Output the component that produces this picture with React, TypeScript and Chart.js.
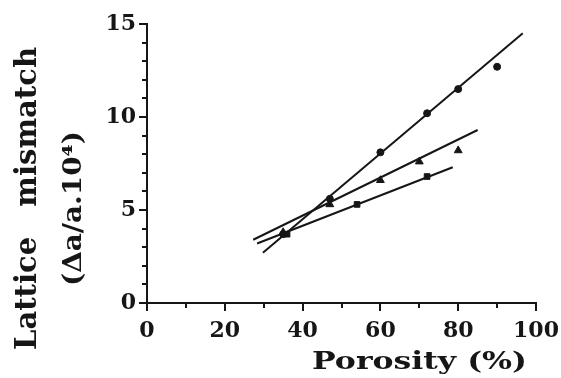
import React, { useEffect, useRef } from "react";
import { Chart, registerables } from "chart.js";

Chart.register(...registerables);

// ---- data ----
const circleX = [35, 47, 60, 72, 80, 90];
const circleY = [3.7, 5.6, 8.1, 10.2, 11.5, 12.7];
const triangleX = [35, 47, 60, 70, 80];
const triangleY = [3.8, 5.3, 6.6, 7.6, 8.2];
const squareX = [36, 54, 72];
const squareY = [3.7, 5.3, 6.8];

const fitAX = [29.8, 96.6];
const fitAY = [2.7, 14.5];
const fitBX = [27.3, 85];
const fitBY = [3.4, 9.3];
const fitCX = [28.3, 78.6];
const fitCY = [3.2, 7.3];

const xTickLabels = [0, 20, 40, 60, 80, 100];
const yTickLabels = [0, 5, 10, 15];
const xMinorStep = 10;
const yMinorStep = 1;

const xTitle = "Porosity (%)";
const yTitleLines = ["Lattice mismatch", "(Δa/a.10⁴)"];

const FONT = '"DejaVu Serif", "Liberation Serif", serif';
const INK = "#161616";

const pts = (xs: number[], ys: number[]) => xs.map((x, i) => ({ x, y: ys[i] }));

const decorPlugin = {
  id: "decor",
  afterDraw(chart: any) {
    const ctx: CanvasRenderingContext2D = chart.ctx;
    const xs = chart.scales.x;
    const ys = chart.scales.y;
    const { left, bottom } = chart.chartArea;
    ctx.save();
    ctx.strokeStyle = INK;
    ctx.lineWidth = 2;
    // y tick marks
    for (let v = 0; v <= 15; v += yMinorStep) {
      const py = Math.round(ys.getPixelForValue(v));
      const len = v % 5 === 0 ? 8 : 5;
      ctx.beginPath();
      ctx.moveTo(left - len, py);
      ctx.lineTo(left, py);
      ctx.stroke();
    }
    // x tick marks
    for (let v = 0; v <= 100; v += xMinorStep) {
      const px = Math.round(xs.getPixelForValue(v));
      const len = v % 20 === 0 ? 8 : 5;
      ctx.beginPath();
      ctx.moveTo(px, bottom);
      ctx.lineTo(px, bottom + len);
      ctx.stroke();
    }

    ctx.fillStyle = INK;
    (ctx as any).letterSpacing = "0px";
    (ctx as any).wordSpacing = "0px";
    ctx.textAlign = "left";
    ctx.textBaseline = "alphabetic";

    // x title (horizontally widened)
    ctx.save();
    ctx.font = `bold 24px ${FONT}`;
    const wx = ctx.measureText(xTitle).width;
    ctx.translate(312, 369);
    ctx.scale(215 / wx, 1);
    ctx.fillText(xTitle, 0, 0);
    ctx.restore();

    // y title line 1
    ctx.save();
    ctx.font = `bold 29px ${FONT}`;
    const w1 = ctx.measureText(yTitleLines[0]).width;
    (ctx as any).wordSpacing = `${Math.max(0, 303 - w1)}px`;
    ctx.translate(36, 350);
    ctx.rotate(-Math.PI / 2);
    ctx.fillText(yTitleLines[0], 0, 0);
    ctx.restore();
    (ctx as any).wordSpacing = "0px";

    // y title line 2
    ctx.save();
    ctx.font = `bold 26px ${FONT}`;
    const w2 = ctx.measureText(yTitleLines[1]).width;
    ctx.translate(81, 286);
    ctx.rotate(-Math.PI / 2);
    ctx.scale(155 / w2, 1);
    ctx.fillText(yTitleLines[1], 0, 0);
    ctx.restore();

    ctx.restore();
  },
};

export default function App() {
  const ref = useRef<HTMLCanvasElement | null>(null);

  useEffect(() => {
    if (!ref.current) return;
    const tickFont = { family: FONT, size: 22, weight: "bold" as const };
    const lineDs = (xs: number[], ys: number[]) => ({
      type: "scatter" as const,
      data: pts(xs, ys),
      showLine: true,
      borderColor: INK,
      borderWidth: 2,
      pointRadius: 0,
      fill: false,
    });
    const chart = new Chart(ref.current, {
      type: "scatter",
      data: {
        datasets: [
          lineDs(fitAX, fitAY),
          lineDs(fitBX, fitBY),
          lineDs(fitCX, fitCY),
          {
            data: pts(circleX, circleY),
            pointStyle: "circle",
            pointRadius: 3.5,
            backgroundColor: INK,
            borderColor: INK,
            borderWidth: 1,
          },
          {
            data: pts(triangleX, triangleY),
            pointStyle: "triangle",
            pointRadius: 4.5,
            backgroundColor: INK,
            borderColor: INK,
            borderWidth: 1,
          },
          {
            data: pts(squareX, squareY),
            pointStyle: "rect",
            pointRadius: 4,
            backgroundColor: INK,
            borderColor: INK,
            borderWidth: 1,
          },
        ],
      },
      options: {
        animation: false,
        responsive: true,
        maintainAspectRatio: false,
        layout: { autoPadding: false, padding: { top: 24, right: 25, left: 0, bottom: 0 } },
        plugins: {
          legend: { display: false },
          tooltip: { enabled: false },
        },
        scales: {
          x: {
            type: "linear",
            min: 0,
            max: 100,
            grid: { display: false, drawTicks: false },
            border: { display: true, color: INK, width: 2 },
            ticks: { font: tickFont, color: INK, padding: 15, maxRotation: 0, autoSkip: false },
            afterBuildTicks: (s: any) => {
              s.ticks = xTickLabels.map((v) => ({ value: v }));
            },
            afterFit: (s: any) => {
              s.height = 75;
              s.paddingLeft = 0;
              s.paddingRight = 0;
            },
          },
          y: {
            type: "linear",
            min: 0,
            max: 15,
            grid: { display: false, drawTicks: false },
            border: { display: true, color: INK, width: 2 },
            ticks: { font: tickFont, color: INK, padding: 11, autoSkip: false },
            afterBuildTicks: (s: any) => {
              s.ticks = yTickLabels.map((v) => ({ value: v }));
            },
            afterFit: (s: any) => {
              s.width = 147;
              s.paddingTop = 0;
              s.paddingBottom = 0;
            },
          },
        },
      },
      plugins: [decorPlugin],
    });
    return () => chart.destroy();
  }, []);

  return (
    <div style={{ position: "fixed", left: 0, top: 0, width: 561, height: 378, background: "#fff" }}>
      <canvas ref={ref} />
    </div>
  );
}
